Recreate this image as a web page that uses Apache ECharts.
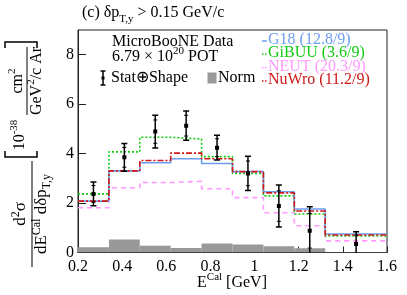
<!DOCTYPE html>
<html><head><meta charset="utf-8">
<script src="https://cdn.jsdelivr.net/npm/echarts@6/dist/echarts.min.js"></script>
<style>html,body{margin:0;padding:0;background:#fff}#c{width:407px;height:295px}</style>
</head><body><div id="c"></div>
<script>
// ---- data ----
const binEdges = [0.2, 0.34, 0.48, 0.62, 0.76, 0.9, 1.04, 1.18, 1.32, 1.6];
const dataVals = [2.37, 3.85, 4.89, 5.13, 4.24, 3.20, 1.88, 0.88, 0.34];
const dataErr  = [0.48, 0.56, 0.66, 0.59, 0.50, 0.69, 0.85, 0.97, 0.50];
const dataStat = [0.34, 0.40, 0.47, 0.42, 0.36, 0.50, 0.62, 0.70, 0.36];
const g18   = [2.08, 3.30, 3.63, 3.79, 3.60, 3.27, 2.46, 1.76, 0.75];
const gibuu = [2.37, 4.07, 4.66, 4.59, 3.88, 3.20, 2.29, 1.56, 0.67];
const neut  = [1.81, 2.62, 2.83, 2.88, 2.58, 2.22, 1.61, 1.08, 0.47];
const nuwro = [2.08, 3.30, 3.72, 4.02, 3.79, 3.27, 2.41, 1.68, 0.71];
const normUnc = [0.21, 0.53, 0.27, 0.18, 0.36, 0.32, 0.25, 0.17, 0.02];
const modelNames = ['G18', 'GiBUU', 'NEUT', 'NuWro'];
const modelChi2  = ['12.8/9', '3.6/9', '20.3/9', '11.2/9'];
const xTicks = [0.2, 0.4, 0.6, 0.8, 1.0, 1.2, 1.4, 1.6];
const yTicks = [0, 2, 4, 6, 8];

const FONT = 'Liberation Serif';
const colors = ['#6f9ef0', '#11cc11', '#ff99ff', '#d01818'];
const dashes = ['solid', [2, 2], [5, 4], [6, 2, 2, 2]];
const modelVals = [g18, gibuu, neut, nuwro];

function stepData(vals) {
  const d = vals.map((v, i) => [binEdges[i], v]);
  d.push([binEdges[binEdges.length - 1], vals[vals.length - 1]]);
  return d;
}
const centers = dataVals.map((v, i) => (binEdges[i] + binEdges[i + 1]) / 2);

function rich(size, lh) {
  return {
    n: {fontFamily: FONT, fontSize: size, lineHeight: lh, verticalAlign: 'middle', fill: '#000', color: '#000'},
    sup: {fontFamily: FONT, fontSize: Math.round(size * 0.7), verticalAlign: 'top', fill: '#000', color: '#000'},
    sub: {fontFamily: FONT, fontSize: Math.round(size * 0.7), verticalAlign: 'bottom', fill: '#000', color: '#000'}
  };
}
function txt(x, y, text, opts) {
  opts = opts || {};
  const size = opts.size || 16;
  return {
    type: 'text', x: x, y: y, silent: true,
    style: {
      text: text, fontFamily: FONT, fontSize: size, fill: opts.color || '#000',
      align: opts.align || 'left', textAlign: opts.align || 'left',
      verticalAlign: 'middle', textVerticalAlign: 'middle',
      rich: opts.rich ? rich(size, opts.lh || 22) : undefined
    }
  };
}

const chart = echarts.init(document.getElementById('c'));

const series = [];
// Norm uncertainty band
series.push({
  type: 'custom', name: 'Norm', clip: true, z: 1,
  data: normUnc.map((v, i) => [binEdges[i], binEdges[i + 1], v]),
  encode: {x: [0, 1], y: 2},
  renderItem: (params, api) => {
    const a = api.coord([api.value(0), api.value(2)]);
    const b = api.coord([api.value(1), 0]);
    return {type: 'rect', shape: {x: a[0], y: a[1], width: b[0] - a[0], height: b[1] - a[1]},
            style: {fill: '#999999'}};
  }
});
// model step lines (draw order: NEUT, GiBUU, G18, NuWro)
[2, 1, 0, 3].forEach(k => {
  series.push({
    type: 'line', name: modelNames[k], step: 'end', symbol: 'none', z: 3,
    data: stepData(modelVals[k]),
    lineStyle: {color: colors[k], width: 1.6, type: dashes[k]}
  });
});
// data with error bars
series.push({
  type: 'custom', name: 'Data', clip: true, z: 5,
  data: dataVals.map((v, i) => [centers[i], v, dataErr[i], dataStat[i]]),
  encode: {x: 0, y: 1},
  renderItem: (params, api) => {
    const x = api.value(0), y = api.value(1), e = api.value(2), s = api.value(3);
    const c = api.coord([x, y]);
    const t = api.coord([x, y + e]), b = api.coord([x, y - e]);
    const ts = api.coord([x, y + s]), bs = api.coord([x, y - s]);
    const st = {stroke: '#000', lineWidth: 1.5};
    const st2 = {stroke: '#000', lineWidth: 1};
    return {type: 'group', children: [
      {type: 'line', shape: {x1: c[0], y1: t[1], x2: c[0], y2: b[1]}, style: st},
      {type: 'line', shape: {x1: c[0] - 3, y1: t[1], x2: c[0] + 3, y2: t[1]}, style: st},
      {type: 'line', shape: {x1: c[0] - 3, y1: b[1], x2: c[0] + 3, y2: b[1]}, style: st},
      {type: 'line', shape: {x1: c[0] - 2, y1: ts[1], x2: c[0] + 2, y2: ts[1]}, style: st2},
      {type: 'line', shape: {x1: c[0] - 2, y1: bs[1], x2: c[0] + 2, y2: bs[1]}, style: st2},
      {type: 'rect', shape: {x: c[0] - 2, y: c[1] - 2, width: 4, height: 4}, style: {fill: '#000'}}
    ]};
  }
});

// graphics: title, texts, legend, axis titles
const g = [];
g.push(txt(82, 13, '{n|(c) δp}{sub|T,y}{n| > 0.15 GeV/c}', {rich: true, lh: 24}));
g.push(txt(112, 42, 'MicroBooNE Data'));
g.push(txt(112, 57, '{n|6.79 × 10}{sup|20}{n| POT}', {rich: true}));
// Stat+Shape icon
g.push({type: 'line', shape: {x1: 103, y1: 71, x2: 103, y2: 85}, style: {stroke: '#000', lineWidth: 1.5}});
g.push({type: 'line', shape: {x1: 100.5, y1: 71, x2: 105.5, y2: 71}, style: {stroke: '#000', lineWidth: 1.5}});
g.push({type: 'line', shape: {x1: 100.5, y1: 85, x2: 105.5, y2: 85}, style: {stroke: '#000', lineWidth: 1.5}});
g.push({type: 'rect', shape: {x: 101.5, y: 76.5, width: 3, height: 3}, style: {fill: '#000'}});
g.push(txt(111, 78, 'Stat⊕Shape'));
g.push({type: 'rect', shape: {x: 207.5, y: 72.5, width: 9, height: 11}, style: {fill: '#999999'}});
g.push(txt(218, 78, 'Norm'));
const legY = [40, 53, 66.5, 80];
modelNames.forEach((nm, k) => {
  g.push({type: 'line', shape: {x1: 262, y1: legY[k] + 1, x2: 267, y2: legY[k] + 1},
          style: {stroke: colors[k], lineWidth: 1.5, lineDash: dashes[k] === 'solid' ? null : [1.5, 1.5]}});
  g.push(txt(268, legY[k], nm + ' (' + modelChi2[k] + ')', {color: colors[k]}));
});
// x axis title
g.push(txt(232, 283, '{n|E}{sup|Cal}{n| [GeV]}', {rich: true, align: 'center'}));
// y axis title (rotated group)
g.push({
  type: 'group', x: 32, y: 268, rotation: Math.PI / 2, silent: true,
  children: [
    {type: 'line', shape: {x1: 1, y1: 0, x2: 107, y2: 0}, style: {stroke: '#000', lineWidth: 1}},
    txt(54, -11, '{n|d}{sup|2}{n|σ}', {rich: true, align: 'center', size: 17}),
    txt(54, 10, '{n|dE}{sup|Cal}{n| dδp}{sub|T,y}', {rich: true, align: 'center', size: 17}),
    txt(133, -12, '{n|10}{sup|-38}', {rich: true, align: 'center', size: 16}),
    {type: 'line', shape: {x1: 153, y1: -5, x2: 221, y2: -5}, style: {stroke: '#000', lineWidth: 1}},
    txt(187, -14, '{n|cm}{sup|2}', {rich: true, align: 'center', size: 16}),
    txt(187, 5, '{n|GeV}{sup|2}{n|/c Ar}', {rich: true, align: 'center', size: 16})
  ]
});
// brackets
g.push({type: 'polyline', shape: {points: [[5, 151], [5, 157], [37, 157], [37, 151]]}, style: {stroke: '#000', lineWidth: 1.5, fill: null}});
g.push({type: 'polyline', shape: {points: [[5, 48], [5, 42], [37, 42], [37, 48]]}, style: {stroke: '#000', lineWidth: 1.5, fill: null}});

chart.setOption({
  animation: false,
  backgroundColor: '#fff',
  grid: {left: 78, top: 30, right: 20, bottom: 42.5, show: true, borderColor: '#222', borderWidth: 1, containLabel: false},
  xAxis: {
    type: 'value', min: xTicks[0], max: xTicks[xTicks.length - 1], interval: 0.2,
    axisLine: {show: true, lineStyle: {color: '#222', width: 1}},
    axisTick: {show: true, inside: true, length: 6, lineStyle: {color: '#222'}},
    axisLabel: {fontFamily: FONT, fontSize: 16, color: '#000', margin: 6,
                formatter: v => String(+(+v).toFixed(1))},
    splitLine: {show: false}
  },
  yAxis: {
    type: 'value', min: yTicks[0], max: 9, interval: 2,
    axisLine: {show: true, lineStyle: {color: '#222', width: 1}},
    axisTick: {show: true, inside: true, length: 8, lineStyle: {color: '#222'}},
    axisLabel: {fontFamily: FONT, fontSize: 16, color: '#000', margin: 4, showMaxLabel: false},
    splitLine: {show: false}
  },
  series: series,
  graphic: {elements: g}
});
</script></body></html>
